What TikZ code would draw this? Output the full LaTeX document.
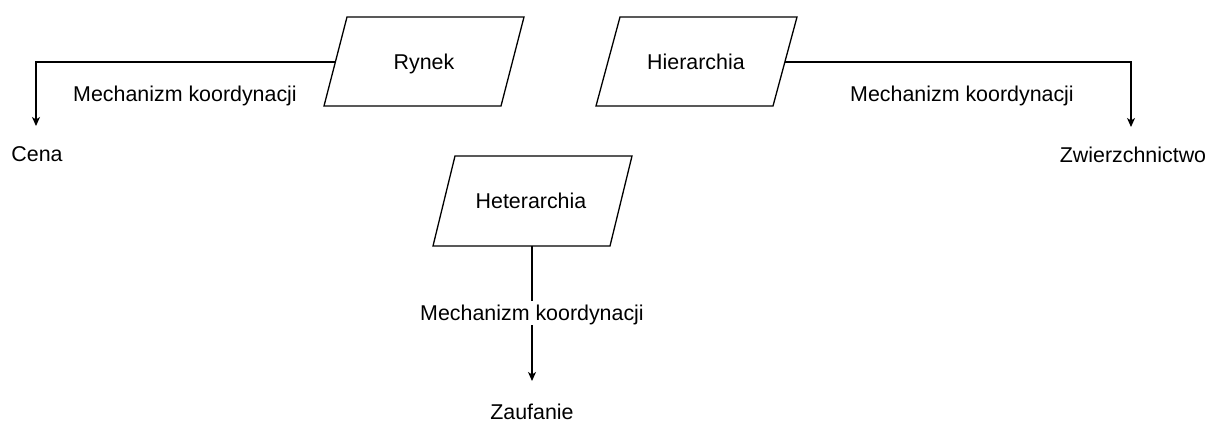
\documentclass[tikz,border=0pt]{standalone}
\usepackage{fontspec}
\setmainfont{Liberation Sans}
\usetikzlibrary{arrows.meta}
\begin{document}
\begin{tikzpicture}[x=1pt,y=-1pt,
  txt/.style={inner sep=0pt, font=\fontsize{21.4pt}{24pt}\selectfont, text height=15.3pt, text depth=0pt},
  lbl/.style={txt, fill=white, inner xsep=2pt, inner ysep=4pt},
  shapeline/.style={draw=black, line width=1.3pt, line join=miter},
  conn/.style={draw=black, line width=1.3pt, -{Stealth[length=9pt,width=8pt,inset=2.5pt]}}]
\useasboundingbox[fill=white] (0,0) rectangle (1208,422);
% parallelograms
\draw[shapeline] (347,17) -- (524,17) -- (501,106) -- (324,106) -- cycle;
\draw[shapeline] (620,17) -- (797,17) -- (773,106) -- (596,106) -- cycle;
\draw[shapeline] (455,156) -- (632,156) -- (610,246) -- (433,246) -- cycle;
\node[txt] (rynek) at (424,62) {Rynek};
\node[txt] (hier) at (696,62) {Hierarchia};
\node[txt] (heter) at (531,201) {Heterarchia};
\coordinate (rynekL) at (335.5,62);
\coordinate (hierR) at (785,62);
\coordinate (heterB) at (532,246);
% targets
\node[txt] (cena) at (37,154) {Cena};
\node[txt] (zwierz) at (1133,155) {Zwierzchnictwo};
\node[txt] (zauf) at (532,412) {Zaufanie};
\coordinate (cenaT) at (36,126);
\coordinate (zwierzT) at (1131,127);
\coordinate (zaufT) at (532,381);
% connectors
\draw[conn] (rynekL) -| (cenaT);
\draw[conn] (hierR) -| (zwierzT);
\draw[conn] (heterB) -- (zaufT);
% labels
\node[txt] (l1) at (185,94) {Mechanizm koordynacji};
\node[txt] (l2) at (962,94) {Mechanizm koordynacji};
\node[lbl] (l3) at (532,313) {Mechanizm koordynacji};
\end{tikzpicture}
\end{document}
